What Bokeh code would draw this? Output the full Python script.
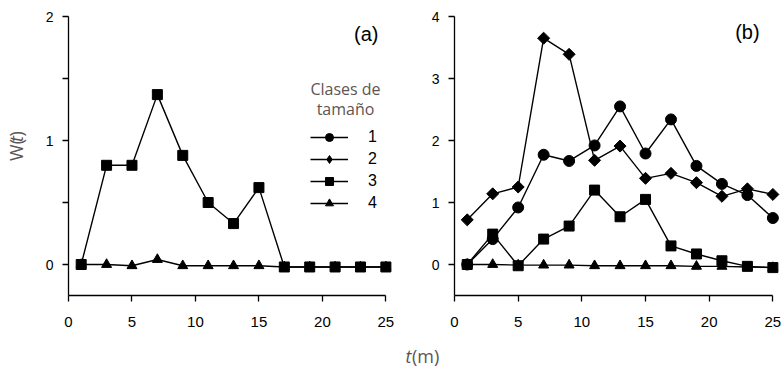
from bokeh.plotting import figure
from bokeh.layouts import row, column
from bokeh.models import Range1d, FixedTicker, Label, Legend, LegendItem
from bokeh.embed import file_html
from bokeh.resources import INLINE
import math

# ---------------- data ----------------
t_vals = [1, 3, 5, 7, 9, 11, 13, 15, 17, 19, 21, 23, 25]

# panel (a)
a_c3 = [0.0, 0.80, 0.80, 1.37, 0.88, 0.50, 0.33, 0.62, -0.02, -0.02, -0.02, -0.02, -0.02]
a_c4 = [0.0, 0.0, -0.01, 0.04, -0.01, -0.01, -0.01, -0.01, -0.02, -0.02, -0.02, -0.02, -0.02]

# panel (b)
b_c1 = [0.0, 0.41, 0.92, 1.77, 1.67, 1.92, 2.55, 1.79, 2.34, 1.59, 1.30, 1.12, 0.75]
b_c2 = [0.72, 1.14, 1.25, 3.65, 3.39, 1.68, 1.91, 1.39, 1.47, 1.32, 1.10, 1.22, 1.13]
b_c3 = [0.0, 0.49, -0.02, 0.41, 0.62, 1.20, 0.77, 1.05, 0.30, 0.17, 0.06, -0.03, -0.05]
b_c4 = [0.0, 0.0, -0.01, -0.01, -0.01, -0.02, -0.02, -0.02, -0.02, -0.03, -0.03, -0.04, -0.05]

class_labels = ["1", "2", "3", "4"]
x_ticks = [0, 5, 10, 15, 20, 25]
a_y_ticks = [0, 0.5, 1, 1.5, 2]
b_y_ticks = [0, 1, 2, 3, 4]
nan = float("nan")

FONT = "Liberation Sans"
SOFT = "Open Sans"
GREY = "#5e5454"
LW = 1.4

MARK = {
    "1": dict(marker="circle", size=11, angle=0),
    "2": dict(marker="square", size=8.5, angle=math.pi / 4),
    "3": dict(marker="square", size=10, angle=0),
    "4": dict(marker="triangle", size=10, angle=0),
}
# legend swatch for class 2 (legend does not rotate markers)
LEGEND_MARK_2 = dict(marker="diamond", size=17, angle=0)


def bare(p):
    p.xgrid.visible = False
    p.ygrid.visible = False
    p.outline_line_color = None
    p.background_fill_color = None
    p.border_fill_color = None


def style(p, yticks, overrides=None):
    bare(p)
    for ax in (p.xaxis[0], p.yaxis[0]):
        ax.axis_line_width = 1.3
        ax.axis_line_color = "black"
        ax.major_tick_line_width = 1.3
        ax.major_tick_out = 6
        ax.major_tick_in = 0
        ax.minor_tick_out = 0
        ax.minor_tick_in = 0
        ax.major_label_text_font = FONT
        ax.major_label_text_color = "black"
    p.xaxis.ticker = FixedTicker(ticks=x_ticks)
    p.xaxis.bounds = (0, 25)
    p.xaxis.major_label_text_font_size = "15px"
    p.xaxis.major_label_standoff = 15
    p.yaxis.ticker = FixedTicker(ticks=yticks)
    p.yaxis.major_label_text_font_size = "14px"
    p.yaxis.major_label_standoff = 9
    if overrides:
        p.yaxis.major_label_overrides = overrides


def series(p, x, y, cls, mark=None):
    m = mark or MARK[cls]
    r1 = p.line(x, y, line_color="black", line_width=LW)
    r2 = p.scatter(x, y, marker=m["marker"], size=m["size"], angle=m["angle"],
                   fill_color="black", line_color="black")
    return [r1, r2]


# ---------------- y-axis title strip ----------------
wfig = figure(width=30, height=336, output_backend="svg", toolbar_location=None,
              x_range=Range1d(0, 30), y_range=Range1d(0, 336),
              x_axis_location=None, y_axis_location=None,
              min_border_left=0, min_border_right=0, min_border_top=0, min_border_bottom=0)
bare(wfig)
# pieces of "W(t)" read bottom to top; positions measured from the strip's bottom
for txt, yy, fs in (("W(", 162, "normal"), ("t", 185, "italic"), (")", 191.5, "normal")):
    wfig.add_layout(Label(x=15, y=yy, text=txt, angle=math.pi / 2, text_align="left",
                          text_baseline="middle", text_font=SOFT, text_font_size="18px",
                          text_font_style=fs, text_color=GREY))

# ---------------- panel (a) ----------------
pa = figure(width=370, height=336, output_backend="svg", toolbar_location=None,
            x_range=Range1d(0, 25.6), y_range=Range1d(-0.25, 2.0),
            min_border_left=38, min_border_right=7, min_border_top=15, min_border_bottom=41)
style(pa, a_y_ticks, {0.5: "", 1.5: ""})

# legend-only renderers for classes 1 and 2 (not drawn in panel a)
leg1 = series(pa, [nan], [nan], "1")
leg2 = series(pa, [nan], [nan], "2", LEGEND_MARK_2)
ra3 = series(pa, t_vals, a_c3, "3")
ra4 = series(pa, t_vals, a_c4, "4")

legend = Legend(items=[LegendItem(label=class_labels[0], renderers=leg1),
                       LegendItem(label=class_labels[1], renderers=leg2),
                       LegendItem(label=class_labels[2], renderers=ra3),
                       LegendItem(label=class_labels[3], renderers=ra4)],
                location=(242, 82), glyph_width=38, glyph_height=20, spacing=2,
                label_standoff=20, label_text_font=FONT, label_text_font_size="16px",
                label_text_color="black",
                label_height=20, padding=0, margin=0, border_line_color=None,
                background_fill_alpha=0)
pa.add_layout(legend)

for txt, yy in (("Clases de", 1.413), ("tamaño", 1.253)):
    pa.add_layout(Label(x=21.82, y=yy, text=txt, text_align="center", text_baseline="middle",
                        text_font=SOFT, text_font_size="16px", text_color=GREY))
pa.add_layout(Label(x=23.45, y=1.86, text="(a)", text_align="center", text_baseline="middle",
                    text_font=FONT, text_font_size="20px", text_color="black"))

# ---------------- panel (b) ----------------
pb = figure(width=382, height=336, output_backend="svg", toolbar_location=None,
            x_range=Range1d(0, 25.6), y_range=Range1d(-0.5, 4.0),
            min_border_left=54, min_border_right=2, min_border_top=16, min_border_bottom=40)
style(pb, b_y_ticks)
series(pb, t_vals, b_c4, "4")
series(pb, t_vals, b_c3, "3")
series(pb, t_vals, b_c2, "2")
series(pb, t_vals, b_c1, "1")

pb.add_layout(Label(x=23.0, y=3.75, text="(b)", text_align="center", text_baseline="middle",
                    text_font=FONT, text_font_size="20px", text_color="black"))

# ---------------- x-axis title strip ----------------
tfig = figure(width=782, height=32, output_backend="svg", toolbar_location=None,
              x_range=Range1d(0, 782), y_range=Range1d(0, 32),
              x_axis_location=None, y_axis_location=None,
              min_border_left=0, min_border_right=0, min_border_top=0, min_border_bottom=0)
bare(tfig)
tfig.add_layout(Label(x=405, y=13, text="t", text_align="left", text_baseline="middle",
                      text_font=SOFT, text_font_size="18px", text_font_style="italic",
                      text_color=GREY))
tfig.add_layout(Label(x=411.5, y=13, text="(m)", text_align="left", text_baseline="middle",
                      text_font=SOFT, text_font_size="18px", text_color=GREY))

layout = column(row(wfig, pa, pb, spacing=0), tfig, spacing=0)
open("out.html", "w").write(file_html(layout, INLINE))
